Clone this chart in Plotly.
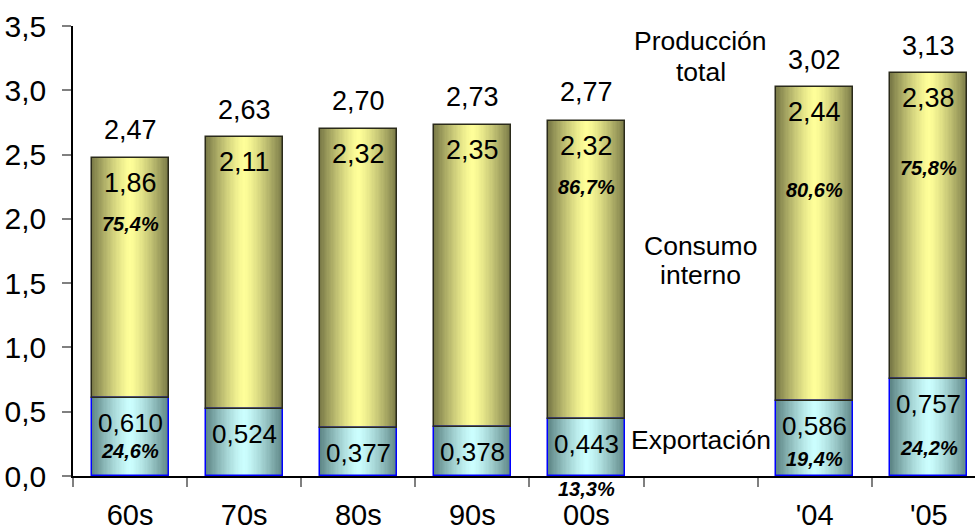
import plotly.graph_objects as go

# ---- data ----
categories = ["60s", "70s", "80s", "90s", "00s", " ", "'04", "'05"]
total = [2.47, 2.63, 2.70, 2.73, 2.77, None, 3.02, 3.13]
consumo = [1.86, 2.11, 2.32, 2.35, 2.32, None, 2.44, 2.38]
exportacion = [0.610, 0.524, 0.377, 0.378, 0.443, None, 0.586, 0.757]
pct_consumo = ["75,4%", None, None, None, "86,7%", None, "80,6%", "75,8%"]
pct_export = ["24,6%", None, None, None, "13,3%", None, "19,4%", "24,2%"]
y_ticks = [0, 0.5, 1.0, 1.5, 2.0, 2.5, 3.0, 3.5]

# ---- styles ----
FONT = "Arial, Liberation Sans, sans-serif"
BAR_W = 0.675
N_LAYERS = 30
cons_edge, cons_center = (120, 120, 70), (255, 255, 153)
exp_edge, exp_center = (92, 132, 132), (204, 255, 255)
# label pixel offsets (style)
pct_cons_shift = [-66, 0, 0, 0, -66, 0, -103, -95]
pct_exp_shift = [-53, 0, 0, 0, -70, 0, -58, -69]


def mix(c_edge, c_center, d, p=1.3):
    t = d ** p
    r, g, b = (round(cc + (ce - cc) * t) for ce, cc in zip(c_edge, c_center))
    return f"rgb({r},{g},{b})"


fig = go.Figure()

base_cons = [e if e is not None else None for e in exportacion]


def add_gradient(y, base, edge, center):
    for k in range(N_LAYERS):
        f = 1 - k / N_LAYERS
        d = 1 - (k + 0.5) / N_LAYERS
        fig.add_trace(go.Bar(
            x=categories, y=y, base=base,
            width=[BAR_W * f] * len(categories),
            marker=dict(color=mix(edge, center, d), line=dict(width=0)),
            showlegend=False, hoverinfo="skip",
        ))


add_gradient(exportacion, [0] * len(categories), exp_edge, exp_center)
add_gradient(consumo, base_cons, cons_edge, cons_center)

# outlines
fig.add_trace(go.Bar(
    x=categories, y=exportacion, base=[0] * len(categories),
    width=[BAR_W] * len(categories),
    marker=dict(color="rgba(0,0,0,0)", line=dict(color="#0000FF", width=1.5)),
    showlegend=False, hoverinfo="skip",
))
fig.add_trace(go.Bar(
    x=categories, y=consumo, base=base_cons,
    width=[BAR_W] * len(categories),
    marker=dict(color="rgba(0,0,0,0)", line=dict(color="#2a2a1a", width=1.5)),
    showlegend=False, hoverinfo="skip",
))

# ---- labels ----
ann = []
for i, c in enumerate(categories):
    if total[i] is None:
        continue
    top = exportacion[i] + consumo[i]
    ann.append(dict(x=c, y=total[i], text=f"{total[i]:.2f}".replace(".", ","),
                    yshift=28, font=dict(size=27)))
    ann.append(dict(x=c, y=top, text=f"{consumo[i]:.2f}".replace(".", ","),
                    yshift=-25, font=dict(size=27)))
    ann.append(dict(x=c, y=exportacion[i], text=f"{exportacion[i]:.3f}".replace(".", ","),
                    yshift=-25, font=dict(size=26)))
    if pct_consumo[i]:
        ann.append(dict(x=c, y=top, text=f"<b><i>{pct_consumo[i]}</i></b>",
                        yshift=pct_cons_shift[i], font=dict(size=20)))
    if pct_export[i]:
        ann.append(dict(x=c, y=exportacion[i], text=f"<b><i>{pct_export[i]}</i></b>",
                        yshift=pct_exp_shift[i], font=dict(size=20)))

series_labels = [("Producción", 3.38), ("total", 3.145), ("Consumo", 1.79),
                 ("interno", 1.565), ("Exportación", 0.28)]
for txt, yv in series_labels:
    ann.append(dict(x=" ", y=yv, text=txt, font=dict(size=26.5)))

for a in ann:
    a.update(xref="x", yref="y", showarrow=False, xanchor="center", yanchor="middle")
    a["font"].update(family=FONT, color="black")

fig.update_layout(
    width=975, height=530,
    margin=dict(l=73, r=0, t=26, b=54, autoexpand=False),
    paper_bgcolor="white", plot_bgcolor="white",
    barmode="overlay", bargap=0,
    separators=",.",
    font=dict(family=FONT, color="black", size=28),
    annotations=ann,
    showlegend=False,
)
fig.update_xaxes(
    type="category", categoryorder="array", categoryarray=categories,
    range=[-0.5, 7.405], tickson="boundaries", automargin=False,
    ticks="outside", ticklen=9, tickcolor="#808080", tickwidth=1.5,
    ticklabelstandoff=12,
    showline=True, linecolor="black", linewidth=1.5,
    showgrid=False, zeroline=False,
    tickfont=dict(size=29, family=FONT),
)
fig.update_yaxes(
    range=[0, 3.5], tickvals=y_ticks, tickformat=".1f", automargin=False,
    ticks="outside", ticklen=9, tickcolor="#808080", tickwidth=1.5,
    ticklabelstandoff=10,
    showline=True, linecolor="black", linewidth=1.5,
    showgrid=False, zeroline=False,
    tickfont=dict(size=30, family=FONT),
)

fig.write_html(
    "out.html",
    config={"displayModeBar": False},
    post_script="document.body.style.margin='0';document.body.style.padding='0';",
)
